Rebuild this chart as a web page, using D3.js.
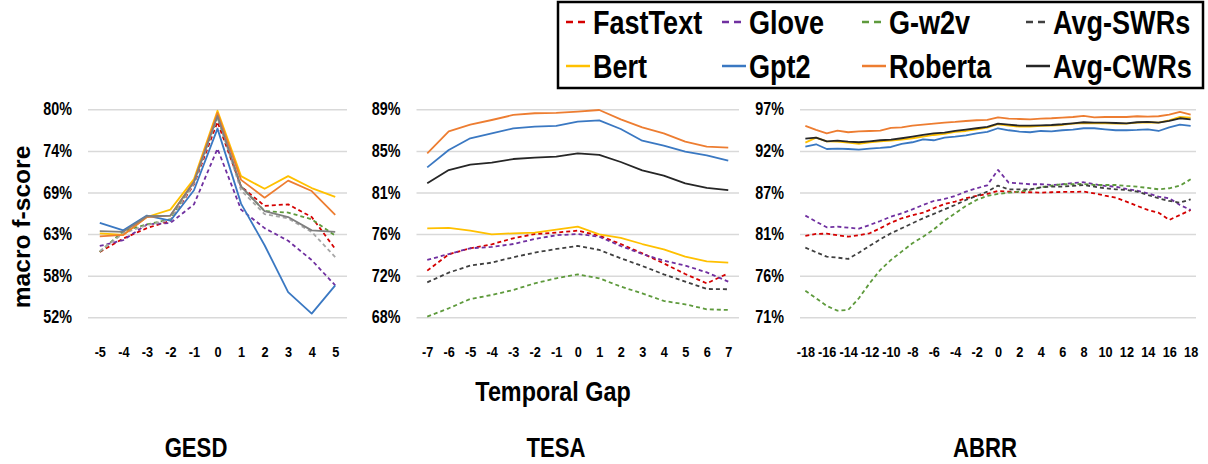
<!DOCTYPE html>
<html>
<head>
<meta charset="utf-8">
<script src="https://cdn.jsdelivr.net/npm/d3@7"></script>
<style>
  body { margin: 0; background: #fff; }
  text { font-family: "Liberation Sans", Arial, sans-serif; font-weight: bold; fill: #000; }
</style>
</head>
<body>
<div id="chart"></div>
<script>
// series names, in drawing order
var seriesNames = ["FastText", "Glove", "G-w2v", "Avg-SWRs", "Bert", "Gpt2", "Roberta", "Avg-CWRs"];

// x categories (temporal gap)
var gesdGaps = [-5, -4, -3, -2, -1, 0, 1, 2, 3, 4, 5];
var tesaGaps = [-7, -6, -5, -4, -3, -2, -1, 0, 1, 2, 3, 4, 5, 6, 7];
var abrrGaps = [-18, -17, -16, -15, -14, -13, -12, -11, -10, -9, -8, -7, -6, -5, -4, -3, -2, -1, 0,
  1, 2, 3, 4, 5, 6, 7, 8, 9, 10, 11, 12, 13, 14, 15, 16, 17, 18];
var abrrTickGaps = [-18, -16, -14, -12, -10, -8, -6, -4, -2, 0, 2, 4, 6, 8, 10, 12, 14, 16, 18];

// y ticks (values in %) and their labels
var gesdYTicks = [52, 57.6, 63.2, 68.8, 74.4, 80];
var gesdYLabels = ["52%", "58%", "63%", "69%", "74%", "80%"];
var tesaYTicks = [68, 72.2, 76.4, 80.6, 84.8, 89];
var tesaYLabels = ["68%", "72%", "76%", "81%", "85%", "89%"];
var abrrYTicks = [71, 76.2, 81.4, 86.6, 91.8, 97];
var abrrYLabels = ["71%", "76%", "81%", "87%", "92%", "97%"];

// macro f-score (%) per series
var gesdData = {
  "FastText": [60.8, 62.6, 64.0, 65.0, 69.9, 78.3, 69.6, 67.0, 67.2, 65.5, 61.2],
  "Glove": [61.6, 62.4, 64.5, 64.7, 67.2, 74.7, 66.5, 64.0, 62.3, 59.7, 56.3],
  "G-w2v": [60.8, 63.6, 64.5, 65.2, 70.2, 78.9, 69.6, 66.3, 66.1, 65.2, 63.0],
  "Avg-SWRs": [60.9, 63.3, 64.4, 65.1, 70.0, 79.0, 69.1, 65.9, 65.3, 63.5, 60.1],
  "Bert": [63.3, 63.1, 65.5, 66.5, 70.6, 79.8, 71.0, 69.3, 71.0, 69.4, 68.2],
  "Gpt2": [64.7, 63.7, 65.7, 65.0, 69.1, 77.4, 67.3, 61.7, 55.4, 52.5, 56.3],
  "Roberta": [62.9, 63.1, 65.5, 65.7, 70.3, 79.5, 70.5, 68.1, 70.4, 69.0, 65.8],
  "Avg-CWRs": [63.6, 63.5, 65.6, 65.7, 70.2, 79.1, 69.6, 66.3, 65.5, 63.7, 63.5]
};

var tesaData = {
  "FastText": [72.71, 74.36, 74.97, 75.37, 75.98, 76.41, 76.55, 76.75, 76.24, 75.40, 74.46, 73.45, 72.37, 71.43, 72.44],
  "Glove": [73.79, 74.39, 74.97, 75.10, 75.40, 75.91, 76.28, 76.41, 76.14, 75.20, 74.39, 73.72, 73.22, 72.54, 71.60],
  "G-w2v": [68.07, 68.91, 69.85, 70.25, 70.76, 71.43, 71.94, 72.34, 71.94, 71.10, 70.42, 69.65, 69.31, 68.81, 68.74],
  "Avg-SWRs": [71.53, 72.51, 73.22, 73.52, 74.06, 74.53, 74.90, 75.20, 74.80, 73.96, 73.18, 72.34, 71.60, 70.86, 70.83],
  "Bert": [76.98, 77.02, 76.75, 76.38, 76.48, 76.55, 76.85, 77.15, 76.38, 76.01, 75.40, 74.86, 74.12, 73.65, 73.52],
  "Gpt2": [83.14, 84.89, 86.07, 86.57, 87.08, 87.25, 87.32, 87.75, 87.89, 87.01, 85.83, 85.33, 84.72, 84.35, 83.82],
  "Roberta": [84.56, 86.78, 87.45, 87.92, 88.43, 88.60, 88.63, 88.76, 88.93, 87.99, 87.18, 86.57, 85.73, 85.23, 85.13],
  "Avg-CWRs": [81.53, 82.87, 83.41, 83.61, 83.98, 84.12, 84.22, 84.56, 84.39, 83.68, 82.84, 82.30, 81.53, 81.06, 80.85]
};

var abrrData = {
  "FastText": [81.17, 81.42, 81.46, 81.25, 81.08, 81.25, 81.5, 82.13, 82.83, 83.38, 83.75, 84.08, 84.63, 85.17, 85.46, 85.88, 86.17, 86.42, 86.79,
    86.71, 86.63, 86.63, 86.58, 86.63, 86.67, 86.67, 86.71, 86.5, 86.21, 85.96, 85.46, 84.92, 84.42, 84.08, 83.17, 83.79, 84.42],
  "Glove": [83.71, 82.96, 82.25, 82.33, 82.21, 82.08, 82.54, 83.04, 83.58, 84.0, 84.5, 85.04, 85.54, 85.79, 86.17, 86.71, 87.13, 87.5, 89.42,
    87.83, 87.75, 87.63, 87.63, 87.54, 87.63, 87.79, 87.88, 87.63, 87.42, 87.33, 87.04, 86.83, 86.5, 86.08, 85.88, 85.04, 84.42],
  "G-w2v": [74.33, 73.38, 72.42, 71.83, 71.92, 73.38, 75.25, 76.92, 78.17, 79.21, 80.25, 81.08, 82.0, 83.08, 84.0, 84.92, 85.67, 86.17, 86.42,
    86.58, 86.71, 86.92, 87.25, 87.46, 87.63, 87.63, 87.67, 87.54, 87.54, 87.54, 87.42, 87.33, 87.17, 87.0, 87.13, 87.46, 88.25],
  "Avg-SWRs": [79.71, 79.13, 78.58, 78.46, 78.29, 79.08, 79.92, 80.75, 81.5, 82.13, 82.75, 83.38, 83.92, 84.5, 85.04, 85.67, 86.17, 86.71, 87.46,
    87.0, 87.0, 87.0, 87.25, 87.33, 87.33, 87.42, 87.54, 87.33, 87.13, 87.0, 86.92, 86.71, 86.29, 85.88, 85.54, 85.33, 85.75],
  "Bert": [92.83, 93.46, 93.0, 92.96, 92.83, 92.67, 92.88, 93.0, 93.08, 93.21, 93.38, 93.58, 93.79, 93.92, 94.17, 94.29, 94.5, 94.71, 95.13,
    94.96, 94.83, 94.83, 94.92, 94.96, 95.04, 95.21, 95.29, 95.25, 95.25, 95.21, 95.21, 95.33, 95.38, 95.33, 95.63, 96.04, 95.96],
  "Gpt2": [92.33, 92.63, 92.04, 92.08, 92.04, 91.96, 92.08, 92.17, 92.29, 92.67, 92.88, 93.25, 93.13, 93.46, 93.58, 93.75, 94.0, 94.17, 94.63,
    94.38, 94.21, 94.13, 94.29, 94.25, 94.38, 94.46, 94.63, 94.63, 94.5, 94.38, 94.38, 94.42, 94.5, 94.29, 94.75, 95.08, 94.92],
  "Roberta": [94.92, 94.42, 94.0, 94.33, 94.13, 94.25, 94.29, 94.33, 94.67, 94.75, 94.96, 95.08, 95.21, 95.33, 95.42, 95.54, 95.63, 95.67, 96.0,
    95.83, 95.79, 95.75, 95.83, 95.88, 95.96, 96.04, 96.17, 96.0, 96.04, 96.04, 96.04, 96.13, 96.08, 96.13, 96.33, 96.67, 96.33],
  "Avg-CWRs": [93.33, 93.46, 93.0, 93.08, 92.96, 92.88, 93.0, 93.13, 93.21, 93.38, 93.58, 93.79, 94.0, 94.08, 94.29, 94.46, 94.63, 94.79, 95.21,
    95.08, 94.96, 94.96, 95.0, 95.04, 95.13, 95.25, 95.38, 95.33, 95.33, 95.29, 95.25, 95.38, 95.42, 95.33, 95.54, 95.88, 95.75]
};

var colors = {
  "FastText": "#d40000", "Glove": "#7030a0", "G-w2v": "#5e9a3c", "Avg-SWRs": "#404040",
  "Bert": "#ffc000", "Gpt2": "#3a78c2", "Roberta": "#ed7d31", "Avg-CWRs": "#262626"
};
var dashed = { "FastText": true, "Glove": true, "G-w2v": true, "Avg-SWRs": true };

var svgWidth = 1208;
var svgHeight = 464;
var plotTop = 109.3;
var plotBottom = 317.3;
var squeeze = 0.82; // narrow the bold text like a condensed face

var svg = d3.select("#chart").append("svg")
  .attr("width", svgWidth)
  .attr("height", svgHeight);

// place a horizontally condensed text
function addText(parent, str, x, y, size, anchor) {
  return parent.append("text")
    .text(str)
    .attr("transform", "translate(" + x + "," + y + ") scale(" + squeeze + ",1)")
    .style("text-anchor", anchor || "start")
    .style("font-size", size + "px");
}

var panels = [
  { name: "GESD", gaps: gesdGaps, ticks: gesdGaps, data: gesdData, yTicks: gesdYTicks, yLabels: gesdYLabels,
    left: 88, right: 347, titleX: 196, grays: { "Avg-SWRs": "#a6a6a6", "Avg-CWRs": "#7f7f7f" } },
  { name: "TESA", gaps: tesaGaps, ticks: tesaGaps, data: tesaData, yTicks: tesaYTicks, yLabels: tesaYLabels,
    left: 416.5, right: 739, titleX: 556, grays: {} },
  { name: "ABRR", gaps: abrrGaps, ticks: abrrTickGaps, data: abrrData, yTicks: abrrYTicks, yLabels: abrrYLabels,
    left: 800, right: 1196, titleX: 985, grays: {} }
];

panels.forEach(function (p) {
  var x = d3.scalePoint().domain(p.gaps).range([p.left, p.right]).padding(0.5);
  var y = d3.scaleLinear()
    .domain([p.yTicks[0], p.yTicks[p.yTicks.length - 1]])
    .range([plotBottom, plotTop]);

  // y axis with gridlines
  var yAxis = d3.axisLeft(y)
    .tickValues(p.yTicks)
    .tickFormat(function (d, i) { return p.yLabels[i]; })
    .tickSize(-(p.right - p.left))
    .tickPadding(16);
  var yg = svg.append("g").attr("transform", "translate(" + p.left + ",0)").call(yAxis);
  yg.select(".domain").remove();
  yg.selectAll("line").attr("stroke", "#d9d9d9").attr("stroke-width", 1.5);
  yg.selectAll("text")
    .attr("x", null)
    .attr("transform", "translate(-16,0) scale(" + squeeze + ",1)")
    .style("font-size", "17.5px").attr("fill", "#000");

  // x axis labels only
  var xAxis = d3.axisBottom(x).tickValues(p.ticks).tickSize(0).tickPadding(29);
  var xg = svg.append("g").attr("transform", "translate(0," + plotBottom + ")").call(xAxis);
  xg.select(".domain").remove();
  xg.selectAll("text")
    .attr("transform", "scale(" + squeeze + ",1)")
    .style("font-size", "15.5px").attr("fill", "#000");

  var line = d3.line()
    .x(function (d, i) { return x(p.gaps[i]); })
    .y(function (d) { return y(d); });

  seriesNames.forEach(function (s) {
    svg.append("path")
      .datum(p.data[s])
      .attr("d", line)
      .attr("fill", "none")
      .attr("stroke", p.grays[s] || colors[s])
      .attr("stroke-width", 1.8)
      .attr("stroke-dasharray", dashed[s] ? "4,3" : null)
      .attr("stroke-linejoin", "round");
  });

  addText(svg, p.name, p.titleX, 457, 27, "middle");
});

// axis titles
svg.append("text")
  .text("macro f-score")
  .attr("transform", "translate(30,227) rotate(-90) scale(" + squeeze + ",0.78)")
  .style("text-anchor", "middle")
  .style("font-size", "30px");

addText(svg, "Temporal Gap", 553, 401, 28.5, "middle");

// legend
var legend = svg.append("g");
legend.append("rect")
  .attr("x", 558).attr("y", 2)
  .attr("width", 645).attr("height", 86)
  .attr("fill", "#fff")
  .attr("stroke", "#000")
  .attr("stroke-width", 2.5);

var legendCols = [566, 722, 862, 1026];
var legendRows = [22, 66];
seriesNames.forEach(function (s, i) {
  var lx = legendCols[i % 4];
  var ly = legendRows[Math.floor(i / 4)];
  legend.append("line")
    .attr("x1", lx).attr("x2", lx + 24)
    .attr("y1", ly).attr("y2", ly)
    .attr("stroke", colors[s])
    .attr("stroke-width", 2.5)
    .attr("stroke-dasharray", dashed[s] ? "7,5" : null);
  addText(legend, s, lx + 27, ly + 12, 33);
});
</script>
</body>
</html>
